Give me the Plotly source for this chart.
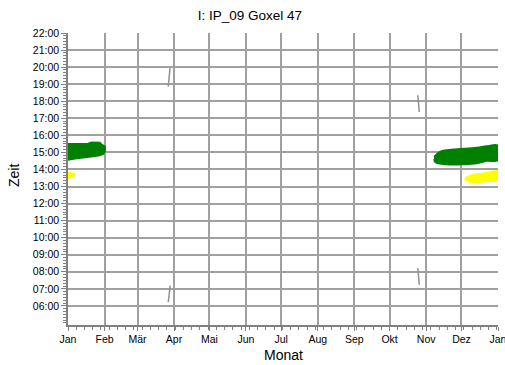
import plotly.graph_objects as go

# ---- data (day of year, hour of day) ----
month_labels = ["Jan", "Feb", "Mär", "Apr", "Mai", "Jun", "Jul", "Aug", "Sep", "Okt", "Nov", "Dez", "Jan"]
month_starts = [0, 31, 59, 90, 120, 151, 181, 212, 243, 273, 304, 334, 365]
hour_ticks = list(range(6, 23))
hour_labels = [f"{h:02d}:00" for h in hour_ticks]

# green band January (upper / lower edge)
jan_green_top_d = [0, 17, 20, 27, 29, 31.5]
jan_green_top_h = [15.5, 15.52, 15.6, 15.58, 15.45, 15.35]
jan_green_bot_d = [0, 6, 17, 26, 30, 31.5]
jan_green_bot_h = [14.55, 14.63, 14.73, 14.8, 14.9, 15.05]

# yellow spot January
jan_yel_top_d = [0, 3, 5.5]
jan_yel_top_h = [13.85, 13.8, 13.75]
jan_yel_bot_d = [0, 3, 5.5]
jan_yel_bot_h = [13.45, 13.55, 13.65]

# green band Nov/Dec
dec_green_top_d = [310.7, 317, 327, 347, 355.4, 365]
dec_green_top_h = [14.75, 15.08, 15.18, 15.28, 15.37, 15.41]
dec_green_bot_d = [310.7, 311.5, 321.5, 335.6, 347, 355.4, 365]
dec_green_bot_h = [14.6, 14.43, 14.29, 14.29, 14.35, 14.49, 14.53]

# yellow band December
dec_yel_top_d = [337, 341.6, 355.4, 365]
dec_yel_top_h = [13.45, 13.65, 13.8, 13.9]
dec_yel_bot_d = [337, 341.6, 355.4, 365]
dec_yel_bot_h = [13.45, 13.25, 13.31, 13.37]

# small gray segments (time change markers)
seg_d = [[86.6, 85.1], [86.8, 85.1], [296.9, 298.2], [296.9, 298.2]]
seg_h = [[19.94, 18.86], [7.19, 6.22], [18.35, 17.37], [8.22, 7.24]]

fig = go.Figure()


def band(top_d, top_h, bot_d, bot_h, color, shape):
    xs = list(top_d) + list(reversed(bot_d))
    ys = list(top_h) + list(reversed(bot_h))
    fig.add_trace(go.Scatter(x=xs, y=ys, mode="lines", fill="toself",
                             fillcolor=color, line=dict(color=color, width=1.5, shape=shape),
                             hoverinfo="skip", showlegend=False))


band(jan_green_top_d, jan_green_top_h, jan_green_bot_d, jan_green_bot_h, "#008000", "linear")
band(jan_yel_top_d, jan_yel_top_h, jan_yel_bot_d, jan_yel_bot_h, "#ffff00", "linear")
band(dec_green_top_d, dec_green_top_h, dec_green_bot_d, dec_green_bot_h, "#008000", "spline")
band(dec_yel_top_d, dec_yel_top_h, dec_yel_bot_d, dec_yel_bot_h, "#ffff00", "spline")

for d, h in zip(seg_d, seg_h):
    fig.add_trace(go.Scatter(x=d, y=h, mode="lines", line=dict(color="#909090", width=1.5),
                             hoverinfo="skip", showlegend=False))

font = "Liberation Sans, Arial, sans-serif"
fig.update_layout(
    width=505, height=365,
    margin=dict(l=68, r=7, t=33, b=40, autoexpand=False),
    paper_bgcolor="white", plot_bgcolor="white",
    font=dict(family=font, color="black", size=10.5),
    title=dict(text="I: IP_09 Goxel 47", x=0.495, xref="container", xanchor="center",
               y=1 - 15 / 365, yref="container", yanchor="middle",
               font=dict(size=13.5, family=font, color="black")),
    showlegend=False,
)
fig.update_xaxes(
    range=[0, 365], tickmode="array", tickvals=month_starts, ticktext=month_labels,
    showgrid=True, gridcolor="#a0a0a0", gridwidth=2,
    showline=True, linecolor="#808080", linewidth=1.5,
    ticks="outside", ticklen=4, tickcolor="#808080",
    minor=dict(dtick=7, tick0=0, ticks="outside", ticklen=3, tickcolor="#808080", showgrid=False),
    zeroline=False, fixedrange=True, automargin=False, ticklabeloverflow="allow",
)
fig.update_yaxes(
    range=[4.88, 22], tickmode="array", tickvals=hour_ticks, ticktext=hour_labels,
    showgrid=True, gridcolor="#a0a0a0", gridwidth=2,
    showline=True, linecolor="#808080", linewidth=1.5,
    ticks="outside", ticklen=5, tickcolor="#808080",
    minor=dict(dtick=1 / 6, tick0=0, ticks="outside", ticklen=3, tickcolor="#808080", showgrid=False),
    zeroline=False, fixedrange=True, automargin=False, ticklabeloverflow="allow",
)
fig.add_annotation(text="Zeit", xref="paper", yref="paper", x=(14 - 68) / 430, y=(325 - 175) / 292,
                   textangle=-90, showarrow=False, font=dict(size=14, family=font, color="black"),
                   xanchor="center", yanchor="middle")
fig.add_annotation(text="Monat", xref="paper", yref="paper", x=0.5, y=(325 - 355) / 292,
                   showarrow=False, font=dict(size=14, family=font, color="black"),
                   xanchor="center", yanchor="middle")

fig.write_html("out.html", config={"displayModeBar": False},
               post_script="document.body.style.margin='0';document.body.style.overflow='hidden';")
